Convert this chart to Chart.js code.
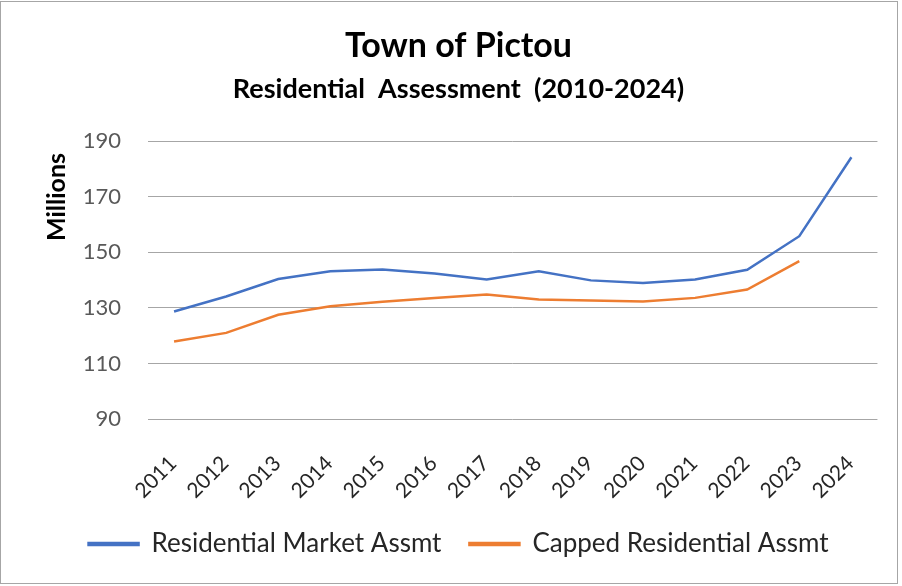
<!DOCTYPE html>
<html>
<head>
<meta charset="utf-8">
<script src="https://cdn.jsdelivr.net/npm/chart.js@4"></script>
<style>
  html, body { margin: 0; padding: 0; background: #fff; }
  canvas { display: block; }
</style>
</head>
<body>
<canvas id="c" width="902" height="586"></canvas>
<script>
const years = ["2011","2012","2013","2014","2015","2016","2017","2018","2019","2020","2021","2022","2023","2024"];
const marketAssmt = [128.7, 134.1, 140.4, 143.2, 143.8, 142.4, 140.2, 143.2, 139.9, 139.0, 140.2, 143.7, 155.8, 184.2];
const cappedAssmt = [117.9, 121.0, 127.5, 130.6, 132.2, 133.6, 134.8, 133.0, 132.7, 132.3, 133.6, 136.6, 146.8, null];
const seriesNames = ["Residential Market Assmt", "Capped Residential Assmt"];
const titleText = "Town of Pictou";
const subtitleText = "Residential  Assessment  (2010-2024)";
const yAxisTitle = "Millions";

const FONT = "Lato, 'Open Sans', sans-serif";

const borderPlugin = {
  id: 'frame',
  beforeDraw(chart) {
    const ctx = chart.ctx;
    ctx.save();
    ctx.fillStyle = '#fff';
    ctx.fillRect(0, 0, chart.width, chart.height);
    ctx.strokeStyle = '#a6a6a6';
    ctx.lineWidth = 1;
    ctx.strokeRect(0.5, 1.5, chart.width - 5, chart.height - 4);
    ctx.restore();
  }
};

const yTitlePlugin = {
  id: 'yTitle',
  afterDraw(chart) {
    const ctx = chart.ctx;
    ctx.save();
    ctx.translate(57, 197);
    ctx.rotate(-Math.PI / 2);
    ctx.font = "bold 25px " + FONT;
    ctx.fillStyle = '#000';
    ctx.textAlign = 'center';
    ctx.textBaseline = 'middle';
    ctx.fillText(yAxisTitle, 0, 0);
    ctx.restore();
  }
};

new Chart(document.getElementById('c'), {
  type: 'line',
  data: {
    labels: years,
    datasets: [
      { label: seriesNames[0], data: marketAssmt, borderColor: '#4472c4', backgroundColor: '#4472c4', borderWidth: 2.5, pointRadius: 0, tension: 0, spanGaps: false },
      { label: seriesNames[1], data: cappedAssmt, borderColor: '#ed7d31', backgroundColor: '#ed7d31', borderWidth: 2.5, pointRadius: 0, tension: 0, spanGaps: false }
    ]
  },
  options: {
    responsive: false,
    animation: false,
    devicePixelRatio: 1,
    layout: { padding: { top: 10, left: 37, right: 22, bottom: 19 } },
    plugins: {
      tooltip: { enabled: false },
      title: {
        display: true, text: titleText, color: '#000',
        font: { family: FONT, size: 34, weight: 'bold' },
        padding: { top: 16, bottom: 0 }
      },
      subtitle: {
        display: true, text: subtitleText, color: '#000',
        font: { family: FONT, size: 27, weight: 'bold' },
        padding: { top: 6, bottom: 36 }
      },
      legend: {
        position: 'bottom',
        labels: {
          color: '#262626',
          font: { family: FONT, size: 26 },
          boxWidth: 50, boxHeight: 2, padding: 28
        }
      }
    },
    scales: {
      x: {
        offset: true,
        grid: { display: false, drawTicks: false },
        border: { display: false },
        ticks: {
          color: '#262626', font: { family: FONT, size: 21 },
          minRotation: 45, maxRotation: 45, padding: 32, labelOffset: -1, autoSkip: false
        },
        afterFit(scale) { scale.height = 84; }
      },
      y: {
        min: 90, max: 190,
        grid: { color: '#a6a6a6', lineWidth: 1, drawTicks: false },
        border: { display: false },
        ticks: {
          stepSize: 20, color: '#595959',
          font: { family: FONT, size: 22 }, padding: 27
        },
        afterFit(scale) { scale.width = 111; }
      }
    }
  },
  plugins: [borderPlugin, yTitlePlugin]
});
</script>
</body>
</html>
